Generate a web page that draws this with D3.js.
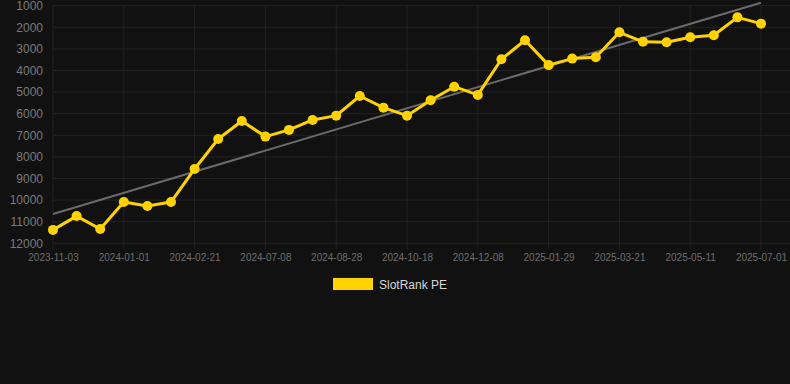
<!DOCTYPE html>
<html>
<head>
<meta charset="utf-8">
<script src="https://cdn.jsdelivr.net/npm/d3@7"></script>
<style>
  html, body { margin: 0; padding: 0; background: #111111; }
  svg { display: block; font-family: "Liberation Sans", Arial, Helvetica, sans-serif; }
</style>
</head>
<body>
<div id="chart"></div>
<script>
const width = 790, height = 384;
const plotLeft = 53, plotRight = 761, plotTop = 5.7, plotBottom = 243.3;

const dates = ['2023-11-03', '2023-11-23', '2023-12-12', '2024-01-01', '2024-01-18', '2024-02-04',
  '2024-02-21', '2024-06-04', '2024-06-21', '2024-07-08', '2024-07-25', '2024-08-11',
  '2024-08-28', '2024-09-14', '2024-10-01', '2024-10-18', '2024-11-04', '2024-11-21',
  '2024-12-08', '2024-12-25', '2025-01-11', '2025-01-29', '2025-02-15', '2025-03-04',
  '2025-03-21', '2025-04-07', '2025-04-24', '2025-05-11', '2025-05-28', '2025-06-14', '2025-07-01'];
const ranks = [11380, 10740, 11340, 10090, 10270, 10090, 8560, 7170, 6340, 7060, 6750, 6290,
  6090, 5180, 5720, 6090, 5380, 4750, 5130, 3480, 2600, 3750, 3450, 3390,
  2230, 2670, 2690, 2460, 2370, 1540, 1830];
const trend = [10640, 860]; // first and last date
const yTicks = [1000, 2000, 3000, 4000, 5000, 6000, 7000, 8000, 9000, 10000, 11000, 12000];
const xTicks = dates.filter((d, i) => i % 3 == 0);
const seriesName = 'SlotRank PE';

const yellow = '#ffd200', grid = '#222222';

let svg = d3.select('#chart').
append('svg').
attr('width', width).
attr('height', height);

const x = d3.scalePoint().domain(dates).range([plotLeft, plotRight]);
const y = d3.scaleLinear().domain([1000, 12000]).range([plotTop, plotBottom]);

// grid
svg.append('g').
selectAll('line').
data(yTicks).
enter().
append('line').
attr('x1', plotLeft).
attr('x2', plotRight + 29).
attr('y1', d => y(d)).
attr('y2', d => y(d)).
attr('stroke', grid);
svg.append('g').
selectAll('line').
data(xTicks).
enter().
append('line').
attr('x1', d => x(d)).
attr('x2', d => x(d)).
attr('y1', plotTop).
attr('y2', plotBottom + 6).
attr('stroke', grid);

const yAxis = d3.axisLeft(y).tickValues(yTicks).tickSize(0).tickPadding(10).tickFormat(d3.format('d'));
const xAxis = d3.axisBottom(x).tickValues(xTicks).tickSize(0).tickPadding(11);

let ya = svg.append('g').attr('transform', 'translate(' + plotLeft + ',0)').call(yAxis);
ya.select('.domain').remove();
ya.selectAll('text').attr('fill', '#7a7a7a').style('font-size', '12px');

let xa = svg.append('g').attr('transform', 'translate(0,' + plotBottom + ')').call(xAxis);
xa.select('.domain').remove();
xa.selectAll('text').attr('fill', '#6e6e6e').style('font-size', '10px');

// trend line
svg.append('line').
attr('x1', x(dates[0])).
attr('y1', y(trend[0])).
attr('x2', x(dates[dates.length - 1])).
attr('y2', y(trend[1])).
attr('stroke', '#6a6a6a').
attr('stroke-width', 2);

const line = d3.line().
x((d, i) => x(dates[i])).
y(d => y(d));

svg.append('path').
datum(ranks).
attr('d', line).
attr('fill', 'none').
attr('stroke', yellow).
attr('stroke-width', 3).
attr('stroke-linejoin', 'round');

svg.selectAll('.dot').
data(ranks).
enter().
append('circle').
attr('class', 'dot').
attr('cx', (d, i) => x(dates[i])).
attr('cy', d => y(d)).
attr('r', 5).
attr('fill', yellow);

// legend
let legend = svg.append('g');
legend.append('rect').
attr('x', 333).
attr('y', 278).
attr('width', 40).
attr('height', 12).
attr('fill', yellow);
legend.append('text').
attr('x', 379).
attr('y', 288.5).
attr('fill', '#d8d8d8').
style('font-size', '12px').
text(seriesName);
</script>
</body>
</html>
